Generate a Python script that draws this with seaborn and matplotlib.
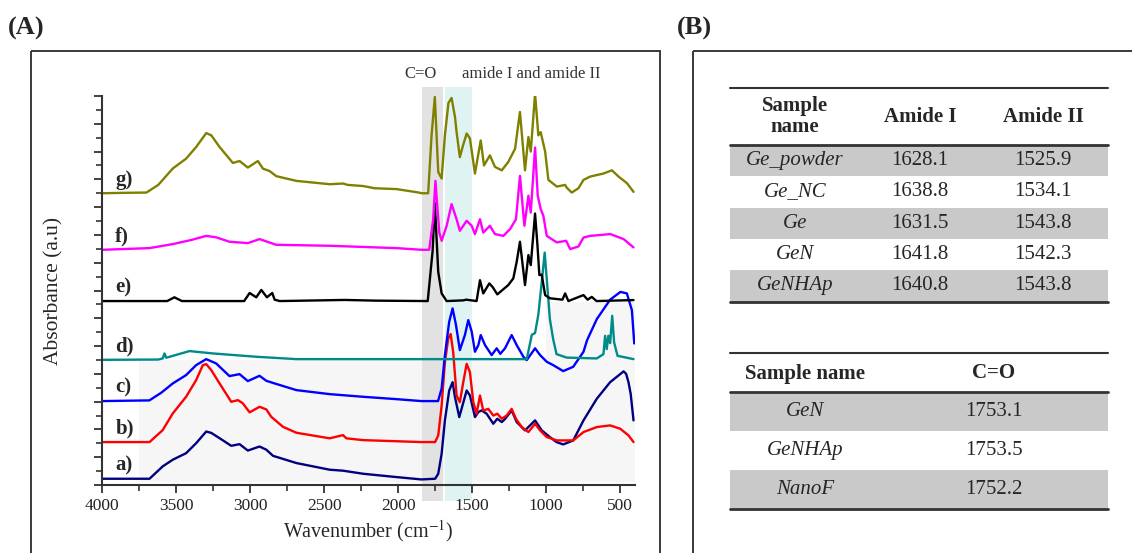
import numpy as np
import pandas as pd
import matplotlib
matplotlib.use('Agg')
import matplotlib.pyplot as plt
import seaborn as sns
from matplotlib.patches import Rectangle
from matplotlib.ticker import MultipleLocator

# ---------------- data: FTIR spectra (wavenumber, relative absorbance) ----------------
samples = ['a)', 'b)', 'c)', 'd)', 'e)', 'f)', 'g)']
offsets = [0.45, 3.09, 6.04, 9.01, 13.24, 16.93, 21.0]
colors = ['#000080', '#ff0000', '#0000ff', '#008b8b', '#000000', '#ff00ff', '#808000']

wn_a = [4000, 3679, 3590, 3522, 3432, 3364, 3296, 3262, 3206, 3127, 3071, 3015, 2936, 2890, 2845,
        2687, 2462, 2372, 2237, 2011, 1842, 1750, 1729, 1706, 1684, 1655, 1632, 1616, 1587, 1565,
        1537, 1515, 1481, 1458, 1436, 1402, 1357, 1330, 1300, 1278, 1233, 1199, 1143, 1075, 1030,
        975, 930, 885, 817, 748, 658, 568, 477, 460, 444, 429, 410]
ab_a = [0.0, 0.0, 0.89, 1.37, 1.84, 2.56, 3.4, 3.3, 2.92, 2.37, 2.49, 2.03, 2.32, 2.09, 1.65,
        1.13, 0.65, 0.58, 0.36, 0.12, -0.05, 0.0, 0.36, 1.8, 4.2, 6.35, 6.95, 5.88, 4.44, 5.28,
        6.35, 6.0, 4.44, 4.8, 4.92, 4.68, 3.96, 4.32, 4.08, 4.3, 4.92, 4.08, 3.48, 4.2, 3.48,
        3.0, 2.64, 2.47, 2.76, 4.2, 5.76, 6.95, 7.73, 7.55, 6.95, 6.1, 4.2]

wn_b = [4000, 3679, 3590, 3522, 3432, 3364, 3319, 3296, 3262, 3206, 3127, 3082, 3050, 3003, 2936,
        2890, 2857, 2778, 2687, 2462, 2372, 2350, 2237, 1842, 1750, 1729, 1706, 1684, 1662, 1645,
        1628, 1605, 1583, 1560, 1537, 1515, 1492, 1470, 1447, 1425, 1391, 1357, 1330, 1300, 1267,
        1233, 1204, 1165, 1120, 1075, 1041, 996, 928, 817, 748, 658, 568, 500, 444, 410]
ab_b = [0.0, 0.0, 0.86, 2.06, 3.26, 4.46, 5.54, 5.61, 5.18, 4.22, 2.9, 3.02, 2.8, 2.14, 2.54,
        2.35, 1.82, 1.1, 0.67, 0.27, 0.5, 0.27, 0.14, 0.0, 0.0, 0.48, 2.63, 5.74, 7.42, 7.78,
        6.47, 3.35, 2.87, 4.31, 5.63, 5.03, 2.87, 2.04, 3.35, 2.27, 2.39, 1.91, 2.04, 1.68, 1.91,
        2.39, 1.68, 1.08, 0.72, 1.32, 0.84, 0.36, 0.12, 0.12, 0.72, 1.08, 1.2, 0.96, 0.48, 0.0]

wn_c = [4000, 3680, 3600, 3522, 3432, 3364, 3296, 3229, 3139, 3071, 3015, 2936, 2890, 2834, 2687,
        2462, 2237, 2011, 1842, 1730, 1706, 1684, 1655, 1632, 1609, 1583, 1549, 1526, 1503, 1481,
        1458, 1442, 1413, 1368, 1334, 1310, 1278, 1233, 1199, 1154, 1131, 1075, 1041, 996, 953,
        885, 817, 748, 723, 658, 568, 498, 455, 421, 405]
ab_c = [0.0, 0.05, 0.6, 1.27, 1.87, 2.59, 3.02, 2.71, 1.8, 1.94, 1.44, 1.82, 1.46, 1.27, 0.79,
        0.5, 0.31, 0.14, 0.0, 0.0, 0.91, 3.31, 5.71, 6.67, 5.47, 3.67, 4.75, 5.83, 5.0, 3.55,
        4.03, 4.75, 4.03, 3.31, 3.8, 3.4, 3.8, 4.75, 4.03, 3.19, 2.95, 3.8, 3.31, 2.83, 2.59,
        2.16, 2.47, 3.55, 4.4, 5.9, 7.3, 7.86, 7.75, 6.55, 4.15]

wn_d = [4000, 3620, 3590, 3578, 3566, 3409, 3252, 2958, 2687, 2100, 1131, 1097, 1075, 1053, 1023,
        1010, 990, 975, 953, 930, 861, 658, 613, 602, 591, 580, 568, 554, 541, 518, 410]
ab_d = [0.0, 0.02, 0.1, 0.46, 0.15, 0.63, 0.46, 0.22, 0.05, 0.05, 0.05, 1.8, 1.93, 3.24, 6.3,
        7.72, 5.0, 2.93, 1.5, 0.41, 0.16, 0.1, 0.41, 1.73, 0.77, 1.73, 1.2, 3.17, 1.25, 0.29, 0.05]

wn_e = [4000, 3560, 3511, 3460, 3040, 3003, 2958, 2924, 2886, 2850, 2834, 2800, 2360, 2150, 1800,
        1767, 1752, 1729, 1706, 1672, 1560, 1540, 1470, 1447, 1425, 1384, 1361, 1330, 1256, 1222,
        1199, 1177, 1143, 1120, 1104, 1075, 1059, 1046, 1030, 1007, 975, 890, 872, 850, 748, 720,
        692, 660, 410]
ab_e = [0.0, 0.0, 0.27, 0.0, 0.0, 0.58, 0.27, 0.8, 0.27, 0.58, 0.1, 0.0, 0.08, 0.03, 0.0,
        3.6, 7.05, 2.1, 0.55, 0.0, 0.05, 0.1, 0.0, 1.5, 0.55, 1.27, 1.0, 0.48, 1.15, 1.63,
        2.83, 4.27, 1.15, 3.31, 2.59, 6.3, 4.03, 1.87, 1.9, 0.43, 0.2, 0.1, 0.55, 0.0, 0.43, 0.1,
        0.3, 0.0, 0.07]

wn_f = [4000, 3680, 3522, 3400, 3296, 3230, 3139, 3015, 2936, 2823, 2462, 2011, 1842, 1790, 1763,
        1748, 1722, 1706, 1672, 1639, 1605, 1583, 1537, 1503, 1481, 1447, 1425, 1380, 1346, 1289,
        1244, 1204, 1177, 1147, 1120, 1104, 1075, 1057, 1037, 1019, 996, 928, 865, 838, 782, 748,
        703, 567, 477, 410]
ab_f = [0.0, 0.12, 0.41, 0.7, 1.0, 0.9, 0.58, 0.48, 0.77, 0.36, 0.29, 0.12, 0.0, 0.0, 2.2,
        4.96, 1.24, 0.65, 1.73, 3.29, 2.2, 1.37, 2.09, 1.73, 1.13, 2.2, 1.24, 1.73, 1.13, 1.0,
        1.49, 2.2, 5.32, 1.73, 3.89, 2.68, 7.36, 3.9, 2.93, 2.45, 1.0, 0.53, 0.65, 0.05, 0.24, 0.88,
        1.0, 1.13, 0.77, 0.17]

wn_g = [4000, 3850, 3700, 3620, 3522, 3432, 3364, 3296, 3262, 3206, 3116, 3071, 3015, 2947, 2913,
        2868, 2823, 2687, 2462, 2372, 2340, 2237, 2158, 2011, 1860, 1842, 1797, 1774, 1752, 1729,
        1706, 1684, 1660, 1639, 1616, 1605, 1583, 1560, 1537, 1515, 1481, 1442, 1420, 1380, 1346,
        1300, 1256, 1210, 1177, 1143, 1120, 1104, 1075, 1053, 1037, 1007, 985, 928, 872, 861, 827,
        782, 748, 703, 613, 556, 511, 454, 410]
ab_g = [0.0, 0.03, 0.05, 0.6, 1.78, 2.49, 3.33, 4.33, 4.17, 3.33, 2.18, 2.32, 1.85, 2.32, 1.77,
        1.6, 1.23, 0.89, 0.65, 0.7, 0.6, 0.52, 0.36, 0.3, 0.05, 0.0, 0.0, 4.17, 6.93, 1.53,
        1.06, 4.17, 6.5, 6.86, 5.5, 4.4, 2.6, 3.5, 4.3, 3.95, 1.42, 3.8, 2.0, 2.73, 1.9,
        1.65, 2.25, 3.2, 5.85, 1.65, 4.05, 3.0, 7.17, 4.17, 4.4, 3.0, 0.96, 0.48, 0.6, 0.4, 0.05,
        0.36, 0.96, 1.2, 1.42, 1.65, 1.2, 0.72, 0.1]

wavenumbers = [wn_a, wn_b, wn_c, wn_d, wn_e, wn_f, wn_g]
absorbances = [ab_a, ab_b, ab_c, ab_d, ab_e, ab_f, ab_g]

# ---------------- data: tables of panel B ----------------
t1_header = ['Sample\nname', 'Amide I', 'Amide II']
t1_names = ['Ge_powder', 'Ge_NC', 'Ge', 'GeN', 'GeNHAp']
t1_amide1 = ['1628.1', '1638.8', '1631.5', '1641.8', '1640.8']
t1_amide2 = ['1525.9', '1534.1', '1543.8', '1542.3', '1543.8']

t2_header = ['Sample name', 'C=O']
t2_names = ['GeN', 'GeNHAp', 'NanoF']
t2_co = ['1753.1', '1753.5', '1752.2']

# ---------------- build long table ----------------
frames = []
for name, off, wn, ab in zip(samples, offsets, wavenumbers, absorbances):
    frames.append(pd.DataFrame({'wavenumber': wn,
                                'absorbance': np.array(ab) + off,
                                'sample': name}))
df = pd.concat(frames, ignore_index=True)

sns.set_style('ticks')
plt.rcParams['font.family'] = ['Liberation Serif', 'DejaVu Serif']
plt.rcParams['mathtext.fontset'] = 'stix'

W, H = 1132, 553
fig = plt.figure(figsize=(W / 100, H / 100), dpi=100)

# overlay axes in pixel coordinates for frames, panel letters and tables
ov = fig.add_axes([0, 0, 1, 1])
ov.set_xlim(0, W)
ov.set_ylim(H, 0)
ov.axis('off')
ov.set_zorder(0)

ax = fig.add_axes([102 / W, 68 / H, 533 / W, 389 / H])
ax.set_zorder(1)
ax.patch.set_alpha(0)

# panel frames and letters
ov.add_patch(Rectangle((31, 51), 629, 520, fill=False, lw=1.4, ec='#3a3a3a'))
ov.add_patch(Rectangle((693, 51), 460, 520, fill=False, lw=1.4, ec='#3a3a3a'))
ov.text(8, 28, '(A)', fontsize=19, fontweight='bold', va='center', ha='left')
ov.text(677, 28, '(B)', fontsize=19, fontweight='bold', va='center', ha='left')

# ---------------- panel A ----------------
ax.set_xlim(4000, 400)
ax.set_ylim(0, 28)

# faint background region and the two highlighted bands
ax.fill_between([3750, 400], 0.2, 9.0, color='#f6f6f6', lw=0, zorder=0)
ax.fill_between([1000, 400], 9.0, 13.2, color='#f6f6f6', lw=0, zorder=0)
band1 = ax.axvspan(1840, 1700, ymin=-0.041, ymax=1.023, color='#e2e2e2', lw=0, zorder=0)
band2 = ax.axvspan(1680, 1500, ymin=-0.041, ymax=1.023, color='#dff3f3', lw=0, zorder=0)
band1.set_clip_on(False)
band2.set_clip_on(False)

sns.lineplot(data=df, x='wavenumber', y='absorbance', hue='sample',
             palette=dict(zip(samples, colors)), estimator=None, sort=False,
             legend=False, linewidth=1.7, ax=ax, zorder=2)
for line in ax.get_lines():
    line.set_solid_joinstyle('round')

for name, off in zip(samples, offsets):
    ax.text(3910, off + 0.95, name, fontsize=15, fontweight='bold',
            ha='left', va='center')

ax.text(1850, 29.6, 'C=O', fontsize=12, color='#333333', ha='center', va='center')
ax.text(1103, 29.6, 'amide I and amide II', fontsize=12, color='#333333',
        ha='center', va='center')

sns.despine(ax=ax)
for s in ['left', 'bottom']:
    ax.spines[s].set_linewidth(1.5)
    ax.spines[s].set_color('#333333')
ax.xaxis.set_major_locator(MultipleLocator(500))
ax.xaxis.set_minor_locator(MultipleLocator(250))
ax.yaxis.set_major_locator(MultipleLocator(2))
ax.yaxis.set_minor_locator(MultipleLocator(1))
ax.tick_params(axis='both', which='major', length=6, width=1.3, color='#333333',
               labelsize=12.5, labelcolor='#222222', direction='out')
ax.tick_params(axis='both', which='minor', length=4, width=1.2, color='#333333',
               direction='out')
ax.tick_params(axis='y', labelleft=False)
ax.set_xlabel('Wavenumber (cm$^{-1}$)', fontsize=14.5, labelpad=3)
ax.set_ylabel('Absorbance (a.u)', fontsize=15.5, labelpad=20)

# ---------------- panel B: tables ----------------
x0, x1 = 730, 1108
gray = '#c9c9c9'

# table 1
cols1 = [795, 920, 1043]
top1, head1, rh1 = 88, 145, 31.3
for i in range(len(t1_names)):
    yc = head1 + rh1 * (i + 0.5)
    if i % 2 == 0:
        ov.add_patch(Rectangle((x0, head1 + rh1 * i), x1 - x0, rh1, color=gray, lw=0))
    ov.text(cols1[0], yc, t1_names[i], fontsize=15, style='italic', ha='center', va='center')
    ov.text(cols1[1], yc, t1_amide1[i], fontsize=15, ha='center', va='center')
    ov.text(cols1[2], yc, t1_amide2[i], fontsize=15, ha='center', va='center')
for c, h in zip(cols1, t1_header):
    ov.text(c, (top1 + head1) / 2, h, fontsize=15, fontweight='bold',
            ha='center', va='center', linespacing=1.1)
bot1 = head1 + rh1 * len(t1_names)
ov.plot([x0, x1], [top1, top1], color='#333333', lw=1.5)
ov.plot([x0, x1], [head1, head1], color='#333333', lw=2.0)
ov.plot([x0, x1], [bot1, bot1], color='#333333', lw=2.0)

# table 2
cols2 = [805, 994]
top2, head2, rh2 = 353, 392, 38.9
for i in range(len(t2_names)):
    yc = head2 + rh2 * (i + 0.5)
    if i % 2 == 0:
        ov.add_patch(Rectangle((x0, head2 + rh2 * i), x1 - x0, rh2, color=gray, lw=0))
    ov.text(cols2[0], yc, t2_names[i], fontsize=15, style='italic', ha='center', va='center')
    ov.text(cols2[1], yc, t2_co[i], fontsize=15, ha='center', va='center')
for c, h in zip(cols2, t2_header):
    ov.text(c, (top2 + head2) / 2 + 1, h, fontsize=15, fontweight='bold',
            ha='center', va='center')
bot2 = head2 + rh2 * len(t2_names)
ov.plot([x0, x1], [top2, top2], color='#333333', lw=1.5)
ov.plot([x0, x1], [head2, head2], color='#333333', lw=2.0)
ov.plot([x0, x1], [bot2, bot2], color='#333333', lw=2.0)

fig.savefig('out.png', dpi=100, facecolor='white')
